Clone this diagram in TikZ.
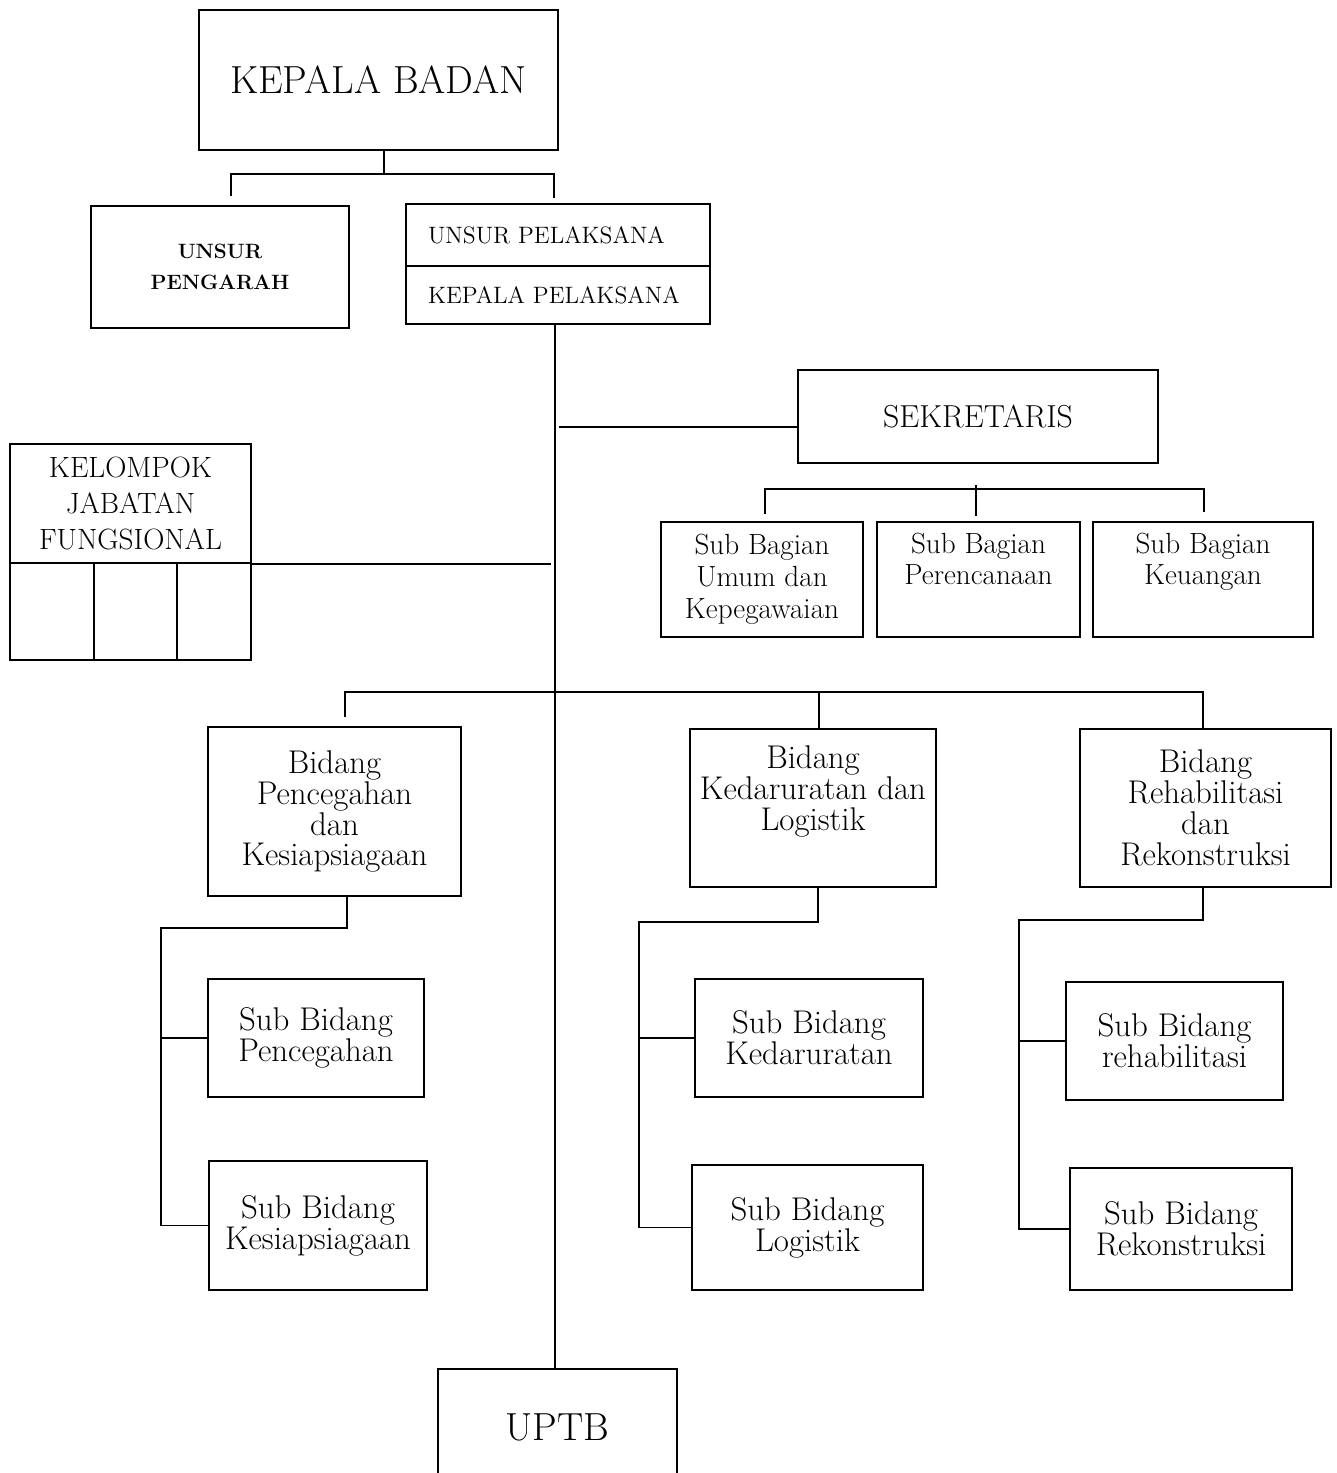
\documentclass[tikz,border=0pt]{standalone}
\usetikzlibrary{positioning, calc}
\tikzset{
    box/.style={
        rectangle, draw=black, line width=1.1pt,
        inner sep=2pt, align=center
    },
    bigtext/.style={font=\fontsize{22.3}{26}\selectfont},
    captext/.style={font=\fontsize{16.7}{20.4}\selectfont},
    bagtext/.style={font=\fontsize{16.6}{18.1}\selectfont},
    bidtext/.style={font=\fontsize{18.7}{17.6}\selectfont},
    link/.style={draw=black, line width=1pt},
    trunk/.style={draw=black, line width=0.7pt}
}

\begin{document}
\begin{tikzpicture}[x=0.02cm, y=-0.02cm]
    \useasboundingbox (0,0) rectangle (1337,1473);

    % top level
    \node[box, bigtext, minimum width=7.18cm, minimum height=2.8cm] (kb) at (378.5,80) {KEPALA BADAN};
    \node[box, font=\fontsize{11.8}{18}\selectfont\bfseries, minimum width=5.16cm, minimum height=2.44cm] (up) at (220,267) {UNSUR\\PENGARAH};
    \node[box, font=\fontsize{13.5}{15}\selectfont, text width=5.2cm, inner xsep=0.44cm, align=left, minimum height=1.24cm] (upl) at (558,235) {UNSUR PELAKSANA};
    \node[box, font=\fontsize{13.5}{15}\selectfont, text width=5.2cm, inner xsep=0.44cm, align=left, minimum height=1.16cm] (kpl) at (558,295) {KEPALA PELAKSANA};

    % sekretariat
    \node[box, font=\fontsize{18.1}{22}\selectfont, minimum width=7.2cm, minimum height=1.86cm] (sek) at (978,416.5) {SEKRETARIS};
    \node[box, bagtext, minimum width=4.04cm, minimum height=2.3cm] (sb1) at (762,579.5) {Sub Bagian\\Umum dan\\Kepegawaian};
    \node[box, bagtext, minimum width=4.06cm, minimum height=2.3cm] (sb2) at (978.5,579.5) {Sub Bagian\\Perencanaan\\\strut};
    \node[box, bagtext, minimum width=4.4cm, minimum height=2.3cm] (sb3) at (1203,579.5) {Sub Bagian\\Keuangan\\\strut};

    % kelompok jabatan fungsional
    \node[box, captext, minimum width=4.82cm, minimum height=2.38cm] (kjf) at (130.5,503.5) {KELOMPOK\\JABATAN\\FUNGSIONAL};
    \node[box, minimum width=1.68cm, minimum height=1.94cm] (kjfa) at (52,611.5) {};
    \node[box, minimum width=1.66cm, minimum height=1.94cm] (kjfb) at (135.5,611.5) {};
    \node[box, minimum width=1.48cm, minimum height=1.94cm] (kjfc) at (214,611.5) {};

    % bidang
    \node[box, bidtext, minimum width=5.06cm, minimum height=3.38cm] (b1) at (334.5,811.5) {Bidang\\Pencegahan\\dan\\Kesiapsiagaan};
    \node[box, bidtext, minimum width=4.92cm, minimum height=3.16cm] (b2) at (813,808) {Bidang\\Kedaruratan dan\\Logistik\\\strut};
    \node[box, bidtext, minimum width=5.02cm, minimum height=3.16cm] (b3) at (1205.5,808) {Bidang\\Rehabilitasi\\dan\\Rekonstruksi};

    % sub bidang
    \node[box, bidtext, minimum width=4.32cm, minimum height=2.36cm] (sbd1) at (316,1038) {Sub Bidang\\Pencegahan};
    \node[box, bidtext, minimum width=4.36cm, minimum height=2.58cm] (sbd2) at (318,1225.5) {Sub Bidang\\Kesiapsiagaan};
    \node[box, bidtext, minimum width=4.56cm, minimum height=2.36cm] (sbd3) at (809,1038) {Sub Bidang\\Kedaruratan};
    \node[box, bidtext, minimum width=4.62cm, minimum height=2.5cm] (sbd4) at (807.5,1227.5) {Sub Bidang\\Logistik};
    \node[box, bidtext, minimum width=4.34cm, minimum height=2.36cm] (sbd5) at (1174.5,1041) {Sub Bidang\\rehabilitasi};
    \node[box, bidtext, minimum width=4.44cm, minimum height=2.44cm] (sbd6) at (1181,1229) {Sub Bidang\\Rekonstruksi};

    % uptb
    \node[box, bigtext, minimum width=4.78cm, minimum height=2.32cm] (uptb) at (557.5,1427) {UPTB};

    % connectors
    \draw[link] ($(kb.south)+(5.5,0)$) -- ++(0,23) coordinate (kbj);
    \draw[link] ($(up.north)+(11,-9)$) |- (kbj) -| ($(upl.north)+(-4,-5)$);
    \draw[trunk] ($(kpl.south)+(-3,0)$) -- ($(uptb.north)+(-2.5,0)$);
    \draw[trunk] ($(sek.west)+(0,10.5)$) -- ($(sek.west -| kpl.south)+(1,10.5)$);
    \draw[link] ($(sb1.north)+(3,-7)$) |- ($(sek.south)+(0,25)$) -| ($(sb3.north)+(1,-9)$);
    \draw[link] ($(sb2.north)+(-2.5,-5)$) -- ($(sb2.north)+(-2.5,-36)$);
    \draw[trunk] (kjf.south east) -- ($(kjf.south east -| kpl.south)+(-7,0)$);
    \draw[link] ($(b1.north)+(10.5,-9)$) |- ($(b3.north)+(-2.5,-36)$) -- ($(b3.north)+(-2.5,0)$);
    \draw[link] ($(b2.north)+(6,0)$) -- ++(0,-36);

    \draw[link] ($(b1.south)+(12.5,0)$) |- ++(-186,31) coordinate (s1) -- (s1 |- sbd2.west) -- (sbd2.west);
    \draw[link] (sbd1.west) -- (sbd1.west -| s1);
    \draw[link] ($(b2.south)+(5,0)$) |- ++(-179,34) coordinate (s2) -- (s2 |- sbd4.west) -- (sbd4.west);
    \draw[link] (sbd3.west) -- (sbd3.west -| s2);
    \draw[link] ($(b3.south)+(-2.5,0)$) |- ++(-184,32) coordinate (s3) -- (s3 |- sbd6.west) -- (sbd6.west);
    \draw[link] (sbd5.west) -- (sbd5.west -| s3);
\end{tikzpicture}
\end{document}
